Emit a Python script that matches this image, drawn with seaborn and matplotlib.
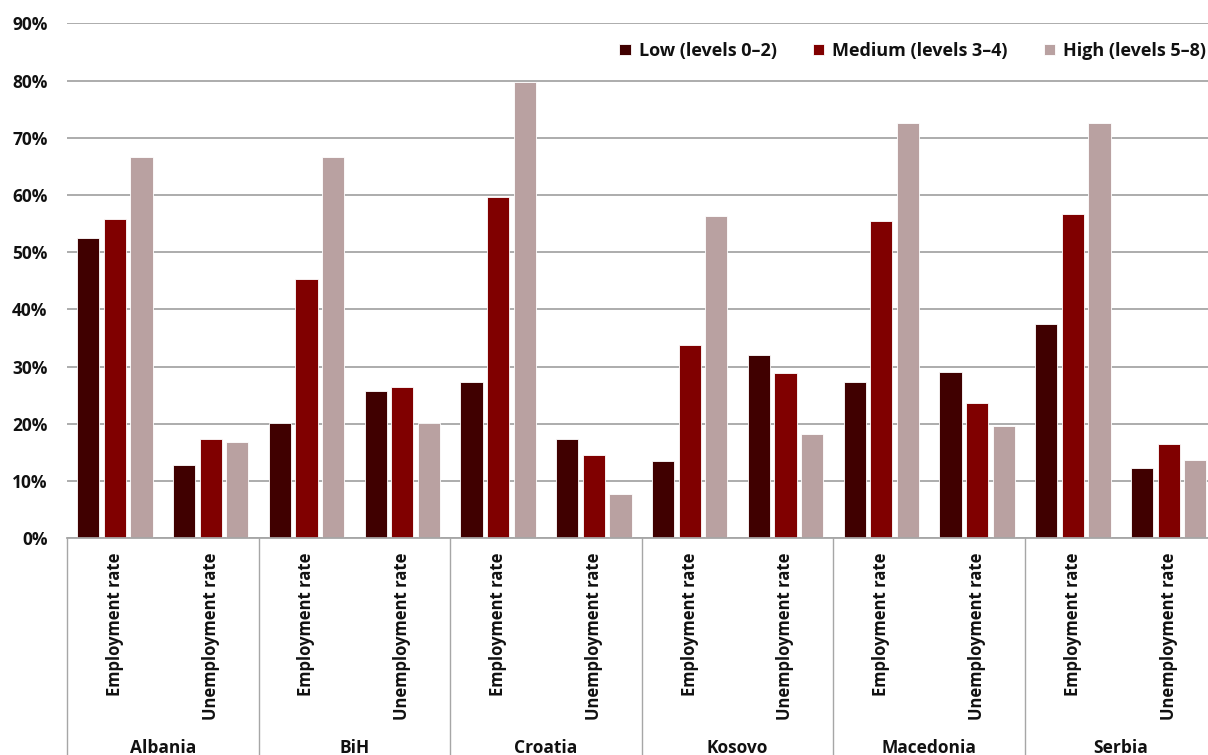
import matplotlib
matplotlib.use("Agg")
import matplotlib.pyplot as plt
from matplotlib.ticker import PercentFormatter, MultipleLocator
from matplotlib.transforms import blended_transform_factory
import seaborn as sns
import pandas as pd

countries = ["Albania", "BiH", "Croatia", "Kosovo", "Macedonia", "Serbia"]
indicators = ["Employment rate", "Unemployment rate"]
levels = ["Low (levels 0–2)", "Medium (levels 3–4)", "High (levels 5–8)"]

# Rates (%) by education level; per country: employment, then unemployment
low = [52.5, 12.8, 20.2, 25.7, 27.3, 17.4, 13.5, 32.1, 27.3, 29.1, 37.5, 12.3]
medium = [55.8, 17.4, 45.3, 26.5, 59.6, 14.6, 33.7, 28.9, 55.5, 23.6, 56.6, 16.5]
high = [66.7, 16.8, 66.7, 20.2, 79.8, 7.7, 56.3, 18.3, 72.5, 19.6, 72.5, 13.7]

colors = ["#400000", "#800000", "#b9a1a1"]

keys = [f"{c} | {ind}" for c in countries for ind in indicators]
rows = []
for series, lvl in zip([low, medium, high], levels):
    for k, v in zip(keys, series):
        rows.append({"key": k, "level": lvl, "value": v})
df = pd.DataFrame(rows)

sns.set_style("white")
plt.rcParams["font.family"] = ["Open Sans", "DejaVu Sans"]
plt.rcParams["text.color"] = "#111111"

W, H = 1208, 755
fig = plt.figure(figsize=(W / 100, H / 100), dpi=100)
ax_left, ax_right, ax_top, ax_bottom = 67, 1216.6, 23.3, 538.3
ax = fig.add_axes([ax_left / W, 1 - ax_bottom / H,
                   (ax_right - ax_left) / W, (ax_bottom - ax_top) / H])

sns.barplot(data=df, x="key", y="value", hue="level", order=keys,
            hue_order=levels, palette=dict(zip(levels, colors)),
            saturation=1, width=0.833, gap=0.17, edgecolor="white",
            linewidth=0.6, ax=ax)

ax.set_xlim(-0.5, len(keys) - 0.5)
ax.set_ylim(0, 90)
ax.yaxis.set_major_locator(MultipleLocator(10))
ax.yaxis.set_major_formatter(PercentFormatter(100, decimals=0))
ax.yaxis.grid(True, color="#a6a6a6", linewidth=1.3)
ax.set_axisbelow(True)
for s in ["top", "right", "left"]:
    ax.spines[s].set_visible(False)
ax.spines["bottom"].set_color("#a6a6a6")
ax.spines["bottom"].set_linewidth(1.3)
ax.set_xlabel("")
ax.set_ylabel("")

ax.set_xticks(range(len(keys)))
ax.set_xticklabels([indicators[i % 2] for i in range(len(keys))],
                   rotation=90, fontsize=12, fontweight="bold")
ax.tick_params(axis="x", length=0, pad=10, colors="#111111")
ax.tick_params(axis="y", length=0, pad=14, labelsize=12.5, colors="#111111")
for t in ax.get_yticklabels():
    t.set_fontweight("bold")

# Country group labels and separators below the axis
trans = blended_transform_factory(ax.transData, fig.transFigure)
y_axis_fig = 1 - ax_bottom / H
for i in range(len(countries) + 1):
    x = -0.5 + 2 * i
    ax.plot([x, x], [y_axis_fig, 0], transform=trans, color="#a6a6a6",
            linewidth=1.0, clip_on=False)
for i, c in enumerate(countries):
    ax.text(0.5 + 2 * i, 1 - 753 / H, c, transform=trans, ha="center",
            va="baseline", fontsize=12.5, fontweight="bold", clip_on=False)

handles, labels = ax.get_legend_handles_labels()
ax.legend_.remove()
ax.legend(handles, labels, loc="center right",
          bbox_to_anchor=(1206 / W, 1 - 51 / H), bbox_transform=fig.transFigure,
          ncol=3, frameon=False, handlelength=0.62, handleheight=0.62,
          handletextpad=0.45, columnspacing=2.0, borderpad=0, borderaxespad=0,
          prop=dict(weight="bold", size=13))

fig.savefig("out.png", dpi=100)
